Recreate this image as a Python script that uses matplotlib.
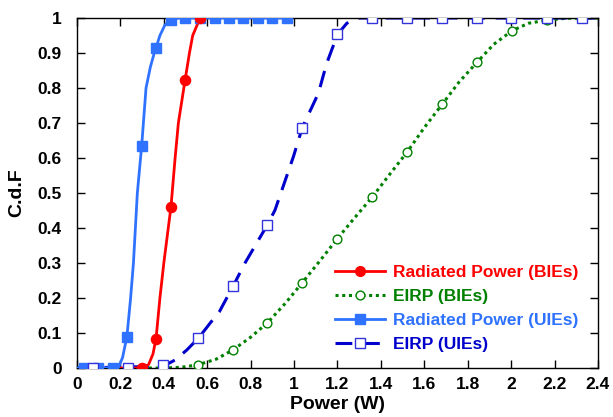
import matplotlib
matplotlib.use("Agg")
import matplotlib.pyplot as plt
from matplotlib.lines import Line2D

plt.rcParams['font.family'] = ['Liberation Sans', 'DejaVu Sans']
plt.rcParams['font.weight'] = 'bold'

# ---- data ----
# Radiated Power (BIEs) - red
rad_bie_mx = [0.298, 0.364, 0.433, 0.498, 0.567]
rad_bie_my = [0.0, 0.083, 0.461, 0.823, 1.0]
rad_bie_lx = [0.20, 0.30, 0.33, 0.35, 0.364, 0.382, 0.40, 0.433, 0.452, 0.467, 0.498, 0.518, 0.533, 0.567]
rad_bie_ly = [0.0, 0.0, 0.01, 0.04, 0.083, 0.2, 0.3, 0.461, 0.6, 0.7, 0.823, 0.9, 0.95, 1.0]

# EIRP (BIEs) - green
eirp_bie_mx = [0.398, 0.556, 0.717, 0.877, 1.038, 1.2, 1.361, 1.522, 1.683, 1.842, 2.005, 2.164]
eirp_bie_my = [0.0, 0.009, 0.051, 0.129, 0.244, 0.370, 0.489, 0.618, 0.754, 0.873, 0.964, 0.994]
eirp_bie_lx = [0.30, 0.40, 0.48, 0.556, 0.64, 0.717, 0.80, 0.877, 0.96, 1.038, 1.12, 1.2, 1.28, 1.361,
               1.44, 1.522, 1.60, 1.683, 1.76, 1.842, 1.92, 2.005, 2.08, 2.164, 2.25, 2.40]
eirp_bie_ly = [0.0, 0.0, 0.002, 0.009, 0.025, 0.051, 0.088, 0.129, 0.185, 0.244, 0.307, 0.370, 0.430, 0.489,
               0.553, 0.618, 0.687, 0.754, 0.817, 0.873, 0.925, 0.964, 0.985, 0.994, 0.999, 1.0]

# Radiated Power (UIEs) - light blue
rad_uie_mx = [0.03, 0.097, 0.164, 0.23, 0.298, 0.364, 0.433, 0.498, 0.567, 0.634, 0.70, 0.767, 0.834, 0.90, 0.968]
rad_uie_my = [0.0, 0.0, 0.0, 0.09, 0.635, 0.915, 0.995, 1.0, 1.0, 1.0, 1.0, 1.0, 1.0, 1.0, 1.0]
rad_uie_lx = [0.0, 0.19, 0.21, 0.23, 0.247, 0.26, 0.278, 0.298, 0.318, 0.338, 0.356, 0.382, 0.405, 0.433, 0.47, 0.968]
rad_uie_ly = [0.0, 0.0, 0.03, 0.09, 0.2, 0.3, 0.5, 0.635, 0.8, 0.86, 0.9, 0.95, 0.98, 0.995, 1.0, 1.0]

# EIRP (UIEs) - dark blue
eirp_uie_mx = [0.075, 0.235, 0.398, 0.559, 0.72, 0.877, 1.038, 1.2, 1.361, 1.522, 1.683, 1.842, 2.0, 2.164, 2.325]
eirp_uie_my = [0.0, 0.0, 0.01, 0.085, 0.235, 0.409, 0.687, 0.953, 1.0, 1.0, 1.0, 1.0, 1.0, 1.0, 1.0]
eirp_uie_lx = [0.0, 0.398, 0.452, 0.505, 0.559, 0.613, 0.656, 0.72, 0.774, 0.877, 0.912, 0.997, 1.038,
               1.112, 1.15, 1.2, 1.243, 1.281, 1.30, 2.40]
eirp_uie_ly = [0.0, 0.005, 0.023, 0.051, 0.085, 0.128, 0.161, 0.235, 0.30, 0.409, 0.451, 0.604, 0.687,
               0.785, 0.87, 0.953, 0.985, 0.996, 1.0, 1.0]

labels = ["Radiated Power (BIEs)", "EIRP (BIEs)", "Radiated Power (UIEs)", "EIRP (UIEs)"]
xticks = [0, 0.2, 0.4, 0.6, 0.8, 1, 1.2, 1.4, 1.6, 1.8, 2, 2.2, 2.4]
yticks = [0, 0.1, 0.2, 0.3, 0.4, 0.5, 0.6, 0.7, 0.8, 0.9, 1]

c_red = "#FF0000"
c_green = "#008000"
c_lblue = "#2F72FF"
c_dblue = "#0000CC"
c_sq = "#3333DD"

dot_style = (0, (1.0, 1.2))
dash_style = (0, (5.5, 3.5))

fig = plt.figure(figsize=(6.13, 4.17), dpi=100)
ax = fig.add_axes([0.1256, 0.1175, 0.8499, 0.8393])

# lines
ax.plot(eirp_bie_lx, eirp_bie_ly, color=c_green, lw=2.2, linestyle=dot_style,
        dash_capstyle='butt', zorder=2)
ax.plot(eirp_uie_lx, eirp_uie_ly, color=c_dblue, lw=2.2, linestyle=dash_style,
        dash_capstyle='butt', zorder=2)
ax.plot(rad_bie_lx, rad_bie_ly, color=c_red, lw=2.0, zorder=3)
ax.plot(rad_uie_lx, rad_uie_ly, color=c_lblue, lw=2.0, zorder=3)

# markers
ax.plot(eirp_bie_mx, eirp_bie_my, linestyle='none', marker='o', ms=6.3, mfc='white',
        mec=c_green, mew=1.0, zorder=4)
ax.plot(rad_uie_mx, rad_uie_my, linestyle='none', marker='s', ms=7, mfc=c_lblue,
        mec=c_lblue, zorder=5)
ax.plot(rad_bie_mx, rad_bie_my, linestyle='none', marker='o', ms=7.3, mfc=c_red,
        mec=c_red, zorder=5)
ax.plot(eirp_uie_mx, eirp_uie_my, linestyle='none', marker='s', ms=7.3, mfc='white',
        mec=c_sq, mew=1.0, zorder=6)

# legend
handles = [
    Line2D([], [], color=c_red, lw=2.0, marker='o', ms=7, mfc=c_red, mec=c_red),
    Line2D([], [], color=c_green, lw=2.2, linestyle=dot_style, dash_capstyle='butt',
           marker='o', ms=6.3, mfc='white', mec=c_green),
    Line2D([], [], color=c_lblue, lw=2.0, marker='s', ms=7, mfc=c_lblue, mec=c_lblue),
    Line2D([], [], color=c_dblue, lw=2.2, linestyle=dash_style, dash_capstyle='butt',
           marker='s', ms=7, mfc='white', mec=c_sq),
]
leg = ax.legend(handles, labels, loc='upper left', bbox_to_anchor=(0.465, 0.34),
                frameon=False, handlelength=2.9, handletextpad=0.45, labelspacing=0.52,
                prop={'weight': 'bold', 'size': 12.5})
for t, c in zip(leg.get_texts(), [c_red, c_green, c_lblue, c_dblue]):
    t.set_color(c)

ax.set_xlim(0, 2.4)
ax.set_ylim(0, 1)
ax.set_xticks(xticks)
ax.set_yticks(yticks)
ax.set_xticklabels([f"{v:g}" for v in xticks])
ax.set_yticklabels([f"{v:g}" for v in yticks])
ax.tick_params(direction='in', length=6, width=1, top=True, right=True, labelsize=12.5)
ax.tick_params(axis='x', pad=6.5)
ax.tick_params(axis='y', pad=11)
for lab in ax.get_xticklabels() + ax.get_yticklabels():
    lab.set_fontweight('bold')
for s in ax.spines.values():
    s.set_linewidth(1.0)

ax.set_xlabel("Power (W)", fontsize=14, fontweight='bold', labelpad=3)
ax.set_ylabel("C.d.F", fontsize=14, fontweight='bold', labelpad=9)

fig.savefig("out.png", dpi=100)
